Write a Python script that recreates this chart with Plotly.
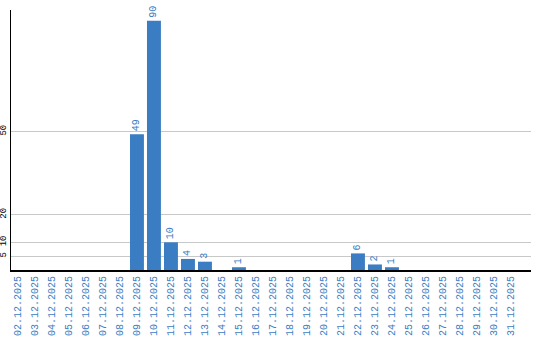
import plotly.graph_objects as go

dates = ["02.12.2025", "03.12.2025", "04.12.2025", "05.12.2025", "06.12.2025",
         "07.12.2025", "08.12.2025", "09.12.2025", "10.12.2025", "11.12.2025",
         "12.12.2025", "13.12.2025", "14.12.2025", "15.12.2025", "16.12.2025",
         "17.12.2025", "18.12.2025", "19.12.2025", "20.12.2025", "21.12.2025",
         "22.12.2025", "23.12.2025", "24.12.2025", "25.12.2025", "26.12.2025",
         "27.12.2025", "28.12.2025", "29.12.2025", "30.12.2025", "31.12.2025"]
values = [0, 0, 0, 0, 0, 0, 0, 49, 90, 10,
          4, 3, 0, 1, 0, 0, 0, 0, 0, 0,
          6, 2, 1, 0, 0, 0, 0, 0, 0, 0]
y_ticks = [5, 10, 20, 50]

blue = "#3b7dc2"
font = "Liberation Mono"
labels = [str(v) if v > 0 else "" for v in values]

fig = go.Figure(go.Bar(
    x=dates, y=values, marker_color=blue, marker_line_width=0,
    text=labels, textposition="outside", textangle=-90,
    textfont=dict(family=font, size=10, color=blue),
    cliponaxis=False,
))

fig.update_layout(
    width=540, height=340,
    margin=dict(l=11, r=9, t=10, b=70),
    paper_bgcolor="white", plot_bgcolor="white",
    bargap=0.18, showlegend=False,
)
fig.update_xaxes(
    type="category", range=[-0.41, 30.18], automargin=False,
    tickangle=-90, tickfont=dict(family=font, size=10, color=blue),
    showline=True, linecolor="black", linewidth=2,
    showgrid=False, ticks="", ticklen=0,
)
fig.update_yaxes(
    range=[0, 93.9], tickvals=y_ticks, ticktext=[str(t) for t in y_ticks],
    automargin=False,
    tickangle=-90, tickfont=dict(family=font, size=9, color="black"),
    showline=True, linecolor="black", linewidth=1,
    showgrid=True, gridcolor="#c8c8c8", gridwidth=1,
    zeroline=False, ticks="", ticklen=0,
)

fig.write_html("out.html")
